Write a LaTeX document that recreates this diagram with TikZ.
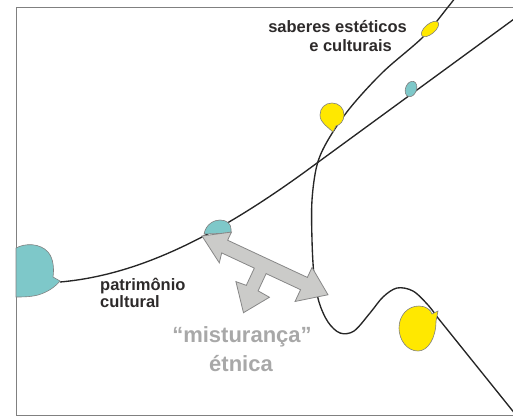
\documentclass[tikz,border=0pt]{standalone}
\usepackage{fontspec}
\setmainfont{Liberation Sans}
\definecolor{tealc}{RGB}{126,200,201}
\definecolor{yelc}{RGB}{255,232,0}
\definecolor{labc}{RGB}{45,42,42}
\definecolor{glabc}{RGB}{168,168,168}
\definecolor{arrfill}{RGB}{203,203,201}
\definecolor{arrline}{RGB}{135,135,135}
\begin{document}
\begin{tikzpicture}[x=1pt,y=-1pt,
  curve/.style={draw=black!85, line width=1.35pt},
  tealblob/.style={fill=tealc, draw=black!50, line width=0.6pt},
  yelblob/.style={fill=yelc, draw=black!50, line width=0.6pt},
  lab/.style={font=\bfseries\fontsize{16.5}{18}\selectfont, text=labc, inner sep=0pt},
  glab/.style={font=\bfseries\fontsize{22}{24}\selectfont, text=glabc, inner sep=0pt},
  bigarrow/.style={fill=arrfill, draw=arrline, line width=0.8pt, line join=miter}]
\useasboundingbox (0,0) rectangle (513,416);
\begin{scope}
\clip (0,0) rectangle (513,416);
\draw[draw=black!50, line width=1pt] (16,7) rectangle (530,415);
% curve A
\draw[curve] (60,282) .. controls (140,275) and (220,235) .. (317,163) -- (525,11);
% curve B
\draw[curve] plot[smooth, tension=0.55] coordinates {(455,-2) (448,7) (423,37) (383,72) (350,108) (328,140) (317,165) (312,200) (312,240) (314,275) (319,302) (328,322) (340,333) (354,331) (370,313) (383,297) (397,288) (413,291) (428,305) (438,318)} -- (520,420);
% teal blobs
\draw[tealblob] (16,248) .. controls (25,243) and (40,243) .. (48,252) .. controls (54,259) and (54,270) .. (53,277) -- (60,281) .. controls (55,287) and (48,292) .. (38,295) .. controls (30,297) and (22,297) .. (16,297) -- cycle;
\draw[tealblob] (204,234) .. controls (206,224) and (214,220) .. (220,220) .. controls (227,220) and (231,224) .. (231,229) -- (231,233) -- cycle;
\draw[tealblob, rotate around={-20:(411,89)}] (411,89) ellipse [x radius=5.5, y radius=8];
% yellow blobs
\draw[yelblob, rotate around={40:(430,29)}] (430,29) ellipse [x radius=10.5, y radius=5];
\draw[yelblob] (333,132) .. controls (328,127) and (320,123) .. (320,115) .. controls (320,108) and (325,103) .. (332,103) .. controls (339,103) and (344,108) .. (344,115) .. controls (344,121) and (340,125) .. (336,126) -- cycle;
\draw[yelblob] (438,311) -- (436,321) .. controls (436,338) and (428,351) .. (418,351) .. controls (407,351) and (399,340) .. (399,328) .. controls (399,315) and (408,306) .. (419,306) .. controls (426,306) and (431,310) .. (432,314) -- cycle;
% gray three-headed arrow
\begin{scope}[shift={(202,236)}, rotate=-25]
\draw[bigarrow] (0,0) -- (25,-16) -- (25,-7) -- (113,-7) -- (113,-18) -- (139,0) -- (112,20) -- (112,7) -- (74,7) -- (74,26) -- (87,27) -- (70,52) -- (50,27) -- (61,26) -- (61,7) -- (25,7) -- (27,17) -- cycle;
\end{scope}
\end{scope}
% labels
\node[lab, anchor=base east] (sab1) at (407,32) {saberes estéticos};
\node[lab, anchor=base east] (sab2) at (392,51) {e culturais};
\node[lab, anchor=base west] (pat1) at (100,290) {patrimônio};
\node[lab, anchor=base west] (pat2) at (100,307) {cultural};
\node[glab, anchor=base] (mis1) at (242,342) {“misturança”};
\node[glab, anchor=base] (mis2) at (241,371) {étnica};
\end{tikzpicture}
\end{document}
